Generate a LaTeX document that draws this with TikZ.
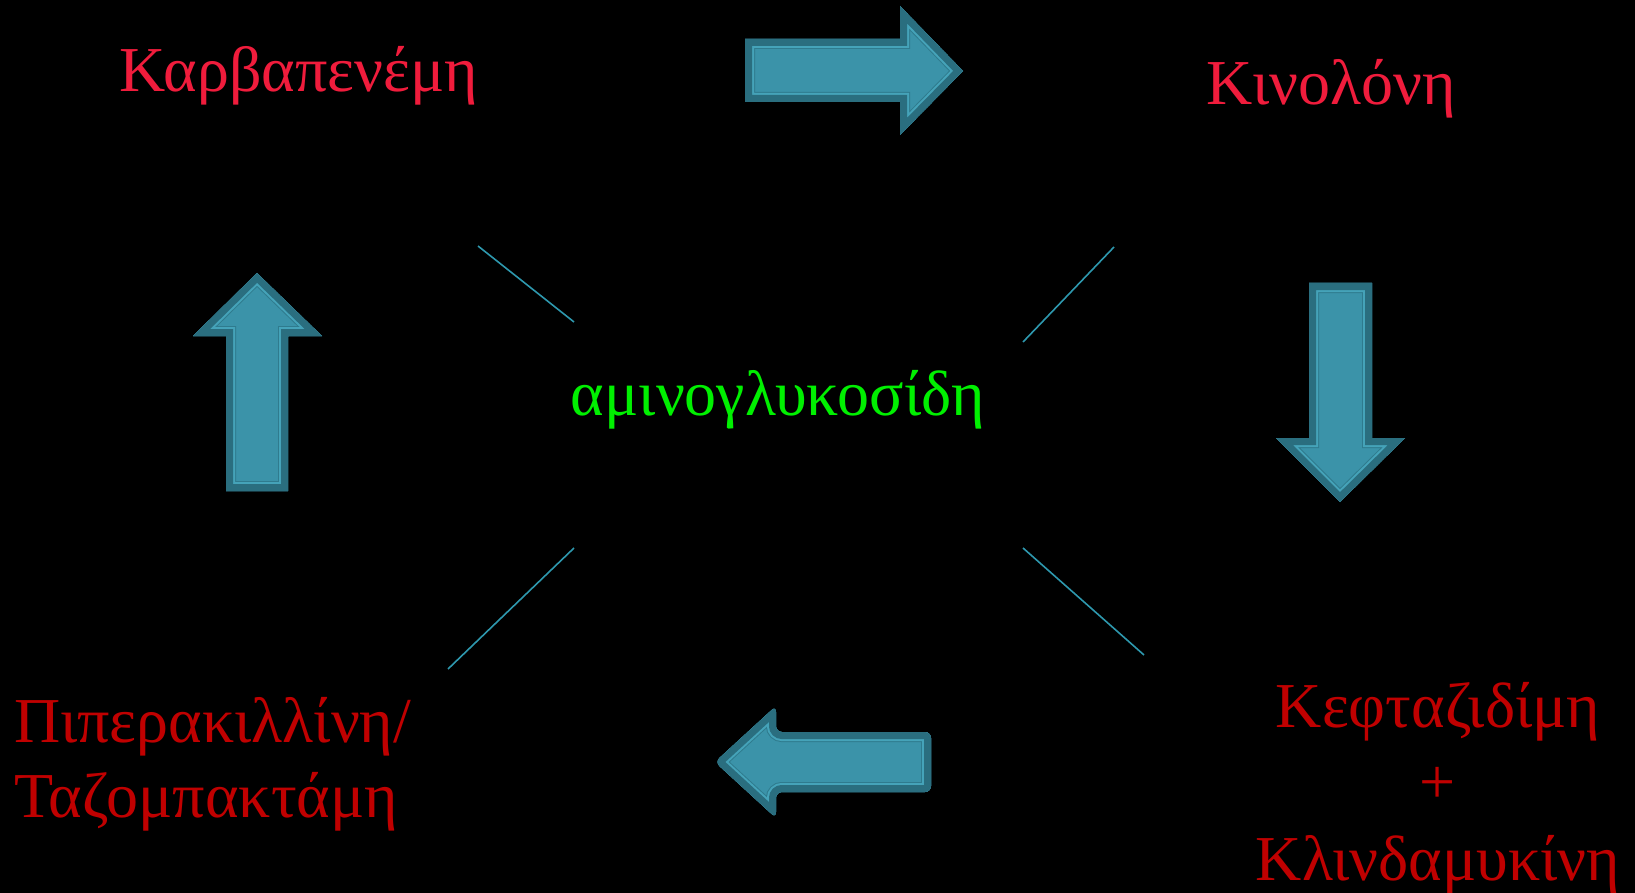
\documentclass[tikz,border=0pt]{standalone}
\usepackage{fontspec}
\setmainfont{Liberation Serif}
\definecolor{brightred}{HTML}{F01C3C}
\definecolor{darkred}{HTML}{C00000}
\definecolor{lime}{HTML}{00F000}
\definecolor{arrowfill}{HTML}{3B93A9}
\definecolor{arrowdark}{HTML}{2A6E7F}
\definecolor{arrowlight}{HTML}{45A3B9}
\definecolor{arrowline}{HTML}{2F7B8E}
\definecolor{linkcol}{HTML}{2E98AE}
\begin{document}
\begin{tikzpicture}[x=1pt,y=-1pt,
  lbl/.style={inner sep=0pt,font=\fontsize{64}{76}\selectfont},
  link/.style={draw=linkcol,line width=1.6pt},
]
\fill[black] (0,0) rectangle (1635,893);
\useasboundingbox (0,0) rectangle (1635,893);
% block arrow drawing macro
\newcommand{\blockarrow}[1]{%
  \begin{scope}
    \clip #1;
    \fill[arrowfill] #1;
    \draw[arrowline,line width=20pt] #1;
    \draw[arrowlight,line width=18pt] #1;
    \draw[arrowdark,line width=14pt] #1;
  \end{scope}}
% arrows
\blockarrow{(745,39) -- (900,39) -- (900,6) -- (963,71) -- (900,135) -- (900,102) -- (745,102) -- cycle}
\blockarrow{(1309,283) -- (1372,283) -- (1372,438) -- (1405,438) -- (1340,502) -- (1276,438) -- (1309,438) -- cycle}
\blockarrow{[rounded corners=6pt] (931,732) -- (931,792) -- (776,792) -- (776,818) -- (715,762) -- (776,706) -- (776,732) -- cycle}
\blockarrow{(226,491) -- (226,336) -- (193,336) -- (257,273) -- (322,336) -- (288,336) -- (288,491) -- cycle}
% texts
\node[lbl,text=brightred,anchor=base] (carb) at (299,92) {Καρβαπενέμη};
\node[lbl,text=brightred,anchor=base] (kino) at (1331,105) {Κινολόνη};
\node[lbl,text=lime,anchor=base] (amino) at (778,415) {αμινογλυκοσίδη};
\node[lbl,text=darkred,anchor=base west] (pip1) at (14,742) {Πιπερακιλλίνη/};
\node[lbl,text=darkred,anchor=base west] (pip2) at (14,817) {Ταζομπακτάμη};
\node[lbl,text=darkred,anchor=base] (kef) at (1438,727) {Κεφταζιδίμη};
\node[lbl,text=darkred,anchor=base] (plus) at (1438,803) {+};
\node[lbl,text=darkred,anchor=base] (klin) at (1438,880) {Κλινδαμυκίνη};
% connector lines
\coordinate (l1a) at (478,246); \coordinate (l1b) at (574,322);
\coordinate (l2a) at (1114,247); \coordinate (l2b) at (1023,342);
\coordinate (l3a) at (574,548); \coordinate (l3b) at (448,669);
\coordinate (l4a) at (1023,548); \coordinate (l4b) at (1144,655);
\draw[link] (l1a) -- (l1b);
\draw[link] (l2a) -- (l2b);
\draw[link] (l3a) -- (l3b);
\draw[link] (l4a) -- (l4b);
\end{tikzpicture}
\end{document}
